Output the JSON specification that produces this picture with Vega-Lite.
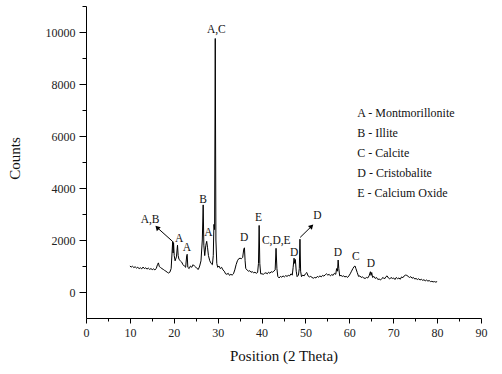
{
  "$schema": "https://vega.github.io/schema/vega-lite/v6.json",
  "width": 395,
  "height": 312,
  "autosize": "none",
  "padding": {"left": 86, "top": 6, "right": 21, "bottom": 56},
  "background": "white",
  "config": {
    "view": {"stroke": null},
    "font": "Liberation Serif",
    "axis": {"grid": false, "domainColor": "black", "tickColor": "black", "labelColor": "#222", "titleColor": "#111", "labelFont": "Liberation Serif", "titleFont": "Liberation Serif", "titleFontWeight": "normal", "labelFontSize": 12, "titleFontSize": 15}
  },
  "datasets": {
    "trace": [
      {"t":10.0,"c":1000},{"t":10.3,"c":960},{"t":10.6,"c":990},{"t":10.9,"c":940},{"t":11.2,"c":970},{"t":11.5,"c":920},{"t":11.8,"c":950},{"t":12.1,"c":900},{"t":12.4,"c":930},{"t":12.7,"c":890},{"t":13.0,"c":960},{"t":13.3,"c":900},{"t":13.6,"c":930},{"t":13.9,"c":880},{"t":14.2,"c":920},{"t":14.5,"c":870},{"t":14.8,"c":900},{"t":15.1,"c":860},{"t":15.4,"c":890},{"t":15.7,"c":850},{"t":16.0,"c":900},{"t":16.3,"c":1060},{"t":16.5,"c":1120},{"t":16.7,"c":980},{"t":17.0,"c":940},{"t":17.3,"c":900},{"t":17.6,"c":870},{"t":17.9,"c":830},{"t":18.2,"c":800},{"t":18.5,"c":760},{"t":18.8,"c":730},{"t":19.1,"c":760},{"t":19.4,"c":900},{"t":19.6,"c":1500},{"t":19.75,"c":1950},{"t":19.85,"c":1500},{"t":19.95,"c":1900},{"t":20.1,"c":1400},{"t":20.3,"c":1200},{"t":20.6,"c":1350},{"t":20.85,"c":1800},{"t":21.0,"c":1400},{"t":21.2,"c":1250},{"t":21.5,"c":1200},{"t":21.8,"c":1150},{"t":22.1,"c":1050},{"t":22.4,"c":1000},{"t":22.7,"c":950},{"t":22.95,"c":1400},{"t":23.05,"c":1450},{"t":23.2,"c":950},{"t":23.5,"c":900},{"t":23.8,"c":1000},{"t":24.1,"c":950},{"t":24.4,"c":1050},{"t":24.7,"c":1000},{"t":25.0,"c":960},{"t":25.3,"c":900},{"t":25.6,"c":870},{"t":25.9,"c":1000},{"t":26.2,"c":1200},{"t":26.5,"c":2000},{"t":26.7,"c":3350},{"t":26.85,"c":1800},{"t":27.05,"c":1400},{"t":27.3,"c":1800},{"t":27.5,"c":1950},{"t":27.7,"c":1700},{"t":27.9,"c":1400},{"t":28.2,"c":1200},{"t":28.5,"c":1100},{"t":28.8,"c":1050},{"t":29.0,"c":1400},{"t":29.15,"c":2600},{"t":29.3,"c":2400},{"t":29.45,"c":9750},{"t":29.6,"c":2000},{"t":29.8,"c":1100},{"t":30.0,"c":950},{"t":30.3,"c":1000},{"t":30.6,"c":900},{"t":30.9,"c":950},{"t":31.2,"c":850},{"t":31.5,"c":800},{"t":31.8,"c":700},{"t":32.1,"c":680},{"t":32.4,"c":720},{"t":32.7,"c":640},{"t":33.0,"c":680},{"t":33.3,"c":650},{"t":33.6,"c":700},{"t":33.9,"c":850},{"t":34.2,"c":1050},{"t":34.5,"c":1200},{"t":34.8,"c":1280},{"t":35.1,"c":1300},{"t":35.4,"c":1280},{"t":35.7,"c":1330},{"t":35.95,"c":1650},{"t":36.1,"c":1700},{"t":36.25,"c":1200},{"t":36.4,"c":900},{"t":36.7,"c":850},{"t":37.0,"c":800},{"t":37.3,"c":820},{"t":37.6,"c":760},{"t":37.9,"c":780},{"t":38.2,"c":740},{"t":38.5,"c":760},{"t":38.8,"c":720},{"t":39.1,"c":750},{"t":39.3,"c":1100},{"t":39.45,"c":2560},{"t":39.6,"c":1100},{"t":39.8,"c":700},{"t":40.1,"c":700},{"t":40.4,"c":680},{"t":40.7,"c":720},{"t":41.0,"c":740},{"t":41.3,"c":700},{"t":41.6,"c":760},{"t":41.9,"c":720},{"t":42.2,"c":780},{"t":42.5,"c":760},{"t":42.8,"c":800},{"t":43.1,"c":850},{"t":43.3,"c":1680},{"t":43.5,"c":900},{"t":43.7,"c":600},{"t":44.0,"c":540},{"t":44.3,"c":600},{"t":44.6,"c":570},{"t":44.9,"c":620},{"t":45.2,"c":580},{"t":45.5,"c":630},{"t":45.8,"c":600},{"t":46.1,"c":640},{"t":46.4,"c":620},{"t":46.7,"c":700},{"t":47.0,"c":650},{"t":47.2,"c":950},{"t":47.4,"c":1300},{"t":47.55,"c":1100},{"t":47.7,"c":1250},{"t":47.9,"c":800},{"t":48.1,"c":590},{"t":48.4,"c":650},{"t":48.6,"c":900},{"t":48.75,"c":2030},{"t":48.9,"c":800},{"t":49.1,"c":590},{"t":49.4,"c":650},{"t":49.7,"c":620},{"t":50.0,"c":700},{"t":50.3,"c":750},{"t":50.6,"c":620},{"t":50.9,"c":580},{"t":51.2,"c":600},{"t":51.5,"c":560},{"t":51.8,"c":530},{"t":52.1,"c":560},{"t":52.4,"c":540},{"t":52.7,"c":600},{"t":53.0,"c":570},{"t":53.3,"c":620},{"t":53.6,"c":580},{"t":53.9,"c":640},{"t":54.2,"c":610},{"t":54.5,"c":660},{"t":54.8,"c":700},{"t":55.1,"c":650},{"t":55.4,"c":680},{"t":55.7,"c":620},{"t":56.0,"c":670},{"t":56.3,"c":640},{"t":56.6,"c":720},{"t":56.9,"c":680},{"t":57.1,"c":900},{"t":57.3,"c":800},{"t":57.45,"c":1230},{"t":57.6,"c":900},{"t":57.8,"c":620},{"t":58.1,"c":640},{"t":58.4,"c":600},{"t":58.7,"c":620},{"t":59.0,"c":580},{"t":59.3,"c":600},{"t":59.6,"c":560},{"t":59.9,"c":620},{"t":60.2,"c":700},{"t":60.5,"c":800},{"t":60.8,"c":900},{"t":61.1,"c":980},{"t":61.3,"c":1000},{"t":61.5,"c":900},{"t":61.8,"c":750},{"t":62.1,"c":600},{"t":62.4,"c":620},{"t":62.7,"c":560},{"t":63.0,"c":580},{"t":63.3,"c":540},{"t":63.6,"c":520},{"t":63.9,"c":560},{"t":64.2,"c":540},{"t":64.5,"c":620},{"t":64.8,"c":780},{"t":64.95,"c":640},{"t":65.1,"c":750},{"t":65.3,"c":560},{"t":65.6,"c":600},{"t":65.9,"c":520},{"t":66.2,"c":560},{"t":66.5,"c":480},{"t":66.8,"c":500},{"t":67.1,"c":460},{"t":67.4,"c":520},{"t":67.7,"c":560},{"t":68.0,"c":500},{"t":68.3,"c":580},{"t":68.6,"c":620},{"t":68.9,"c":540},{"t":69.2,"c":500},{"t":69.5,"c":560},{"t":69.8,"c":520},{"t":70.1,"c":540},{"t":70.4,"c":480},{"t":70.7,"c":560},{"t":71.0,"c":510},{"t":71.3,"c":540},{"t":71.6,"c":490},{"t":71.9,"c":580},{"t":72.2,"c":550},{"t":72.5,"c":620},{"t":72.8,"c":650},{"t":73.1,"c":640},{"t":73.4,"c":600},{"t":73.7,"c":560},{"t":74.0,"c":590},{"t":74.3,"c":530},{"t":74.6,"c":560},{"t":74.9,"c":500},{"t":75.2,"c":520},{"t":75.5,"c":480},{"t":75.8,"c":510},{"t":76.1,"c":460},{"t":76.4,"c":490},{"t":76.7,"c":450},{"t":77.0,"c":470},{"t":77.3,"c":430},{"t":77.6,"c":460},{"t":77.9,"c":420},{"t":78.2,"c":440},{"t":78.5,"c":400},{"t":78.8,"c":410},{"t":79.1,"c":390},{"t":79.4,"c":400},{"t":79.7,"c":380},{"t":80.0,"c":400}
    ],
    "peaks": [
      {"t":29.7,"c":10077,"label":"A,C"},
      {"t":14.6,"c":2770,"label":"A,B"},
      {"t":21.25,"c":2030,"label":"A"},
      {"t":23.0,"c":1680,"label":"A"},
      {"t":26.65,"c":3540,"label":"B"},
      {"t":27.9,"c":2260,"label":"A"},
      {"t":36.05,"c":2090,"label":"D"},
      {"t":39.3,"c":2830,"label":"E"},
      {"t":43.35,"c":1960,"label":"C,D,E"},
      {"t":47.45,"c":1510,"label":"D"},
      {"t":52.75,"c":2920,"label":"D"},
      {"t":57.4,"c":1510,"label":"D"},
      {"t":61.5,"c":1335,"label":"C"},
      {"t":64.9,"c":1065,"label":"D"}
    ],
    "arrows": [
      {"id":"left","t":19.7,"c":1950,"t2":16.2,"c2":2480},
      {"id":"right","t":48.8,"c":2100,"t2":51.4,"c2":2530}
    ],
    "legend": [
      {"t":61.8,"c":6885,"label":"A - Montmorillonite"},
      {"t":61.8,"c":6115,"label":"B - Illite"},
      {"t":61.8,"c":5346,"label":"C - Calcite"},
      {"t":61.8,"c":4577,"label":"D - Cristobalite"},
      {"t":61.8,"c":3808,"label":"E - Calcium Oxide"}
    ]
  },
  "encoding": {
    "x": {"field":"t","type":"quantitative","scale":{"domain":[0,90],"nice":false,"zero":false},
      "axis":{"title":"Position (2 Theta)","values":[0,5,10,15,20,25,30,35,40,45,50,55,60,65,70,75,80,85,90],
        "labelExpr":"datum.value % 10 === 0 ? datum.label : ''","format":"d",
        "labelFont":"Liberation Serif","titleFont":"Liberation Serif",
        "tickSize":{"condition":{"test":"datum.value % 10 === 0","value":5},"value":3},
        "labelPadding":4,"titlePadding":10,"labelFlush":false}},
    "y": {"field":"c","type":"quantitative","scale":{"domain":[-1000,11000],"nice":false,"zero":false},
      "axis":{"title":"Counts","values":[0,1000,2000,3000,4000,5000,6000,7000,8000,9000,10000,11000],
        "labelExpr":"datum.value % 2000 === 0 && datum.value <= 10000 ? datum.label : ''","format":"d",
        "labelFont":"Liberation Serif","titleFont":"Liberation Serif",
        "tickSize":{"condition":{"test":"datum.value % 2000 === 0","value":7},"value":4},
        "labelPadding":4,"titleX":-64,"titleY":152,"labelFlush":false}}
  },
  "layer": [
    {"data":{"name":"trace"},"mark":{"type":"line","color":"black","strokeWidth":1,"interpolate":"linear"}},
    {"data":{"name":"peaks"},"mark":{"type":"text","fontSize":11.5,"font":"Liberation Serif","color":"#111","baseline":"middle","align":"center"},
      "encoding":{"text":{"field":"label"}}},
    {"data":{"name":"arrows"},"mark":{"type":"rule","color":"black","strokeWidth":1},
      "encoding":{"x2":{"field":"t2"},"y2":{"field":"c2"}}},
    {"data":{"name":"arrows"},"transform":[{"filter":"datum.id === 'left'"}],
      "mark":{"type":"point","shape":"triangle-up","filled":true,"color":"black","size":30,"angle":-45,"opacity":1},
      "encoding":{"x":{"field":"t2","type":"quantitative"},"y":{"field":"c2","type":"quantitative"}}},
    {"data":{"name":"arrows"},"transform":[{"filter":"datum.id === 'right'"}],
      "mark":{"type":"point","shape":"triangle-up","filled":true,"color":"black","size":30,"angle":45,"opacity":1},
      "encoding":{"x":{"field":"t2","type":"quantitative"},"y":{"field":"c2","type":"quantitative"}}},
    {"data":{"name":"legend"},"mark":{"type":"text","fontSize":12,"font":"Liberation Serif","color":"#111","baseline":"middle","align":"left"},
      "encoding":{"text":{"field":"label"}}}
  ]
}
